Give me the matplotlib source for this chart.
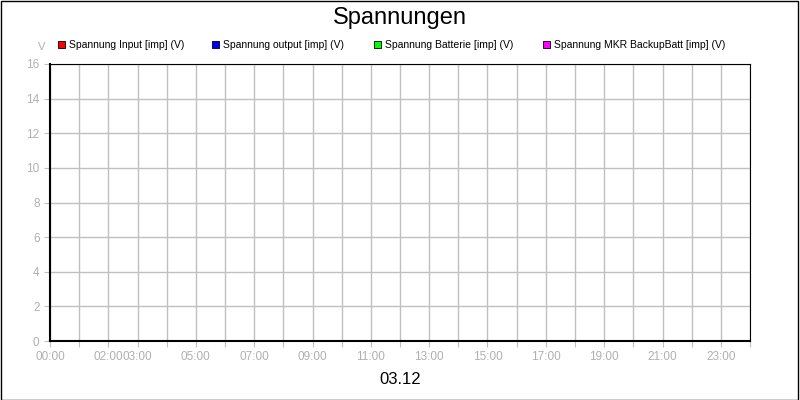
import matplotlib
matplotlib.use("Agg")
import matplotlib.pyplot as plt
from matplotlib.patches import Rectangle

plt.rcParams['font.family'] = ['Liberation Sans', 'DejaVu Sans']

series = ["Spannung Input [imp] (V)", "Spannung output [imp] (V)",
          "Spannung Batterie [imp] (V)", "Spannung MKR BackupBatt [imp] (V)"]
colors = ["#ff0000", "#0000ff", "#00ff00", "#ff00ff"]
legend_x = [58, 212, 374, 543]
hours = list(range(25))
label_hours = [0, 2, 3, 5, 7, 9, 11, 13, 15, 17, 19, 21, 23]
yticks = [0, 2, 4, 6, 8, 10, 12, 14, 16]

fig = plt.figure(figsize=(8, 4), dpi=100)
fig.patch.set_facecolor("white")
fig.add_artist(Rectangle((0.001, 0.001), 0.997, 0.997, transform=fig.transFigure,
                         fill=False, edgecolor="black", lw=1))
ax = fig.add_axes([50/800, 1-341/400, 700/800, 277/400])
ax.set_xlim(0, 24)
ax.set_ylim(0, 16)
ax.set_xticks(hours)
ax.set_xticklabels([f"{h:02d}:00" if h in label_hours else "" for h in hours])
ax.set_yticks(yticks)
ax.grid(True, color="#c0c0c0", lw=1)
ax.tick_params(colors="#c0c0c0", labelcolor="#b0b0b0", labelsize=8.5, length=4)
for s in ax.spines.values():
    s.set_color("black")
ax.spines["bottom"].set_linewidth(1.5)
ax.spines["left"].set_linewidth(1.5)
fig.text(0.5, 1-18/400, "Spannungen", ha="center", va="center", fontsize=17)
fig.text(0.5, 1-380/400, "03.12", ha="center", va="center", fontsize=12)
fig.text(42/800, 1-47/400, "V", ha="center", va="center", fontsize=8, color="#b0b0b0")
for name, c, x in zip(series, colors, legend_x):
    fig.add_artist(Rectangle((x/800, 1-48/400), 7/800, 7/400, transform=fig.transFigure,
                             facecolor=c, edgecolor="black", lw=0.6))
    fig.text((x+11)/800, 1-44.5/400, name, va="center", ha="left", fontsize=7.5)
fig.savefig("out.png", dpi=100)
